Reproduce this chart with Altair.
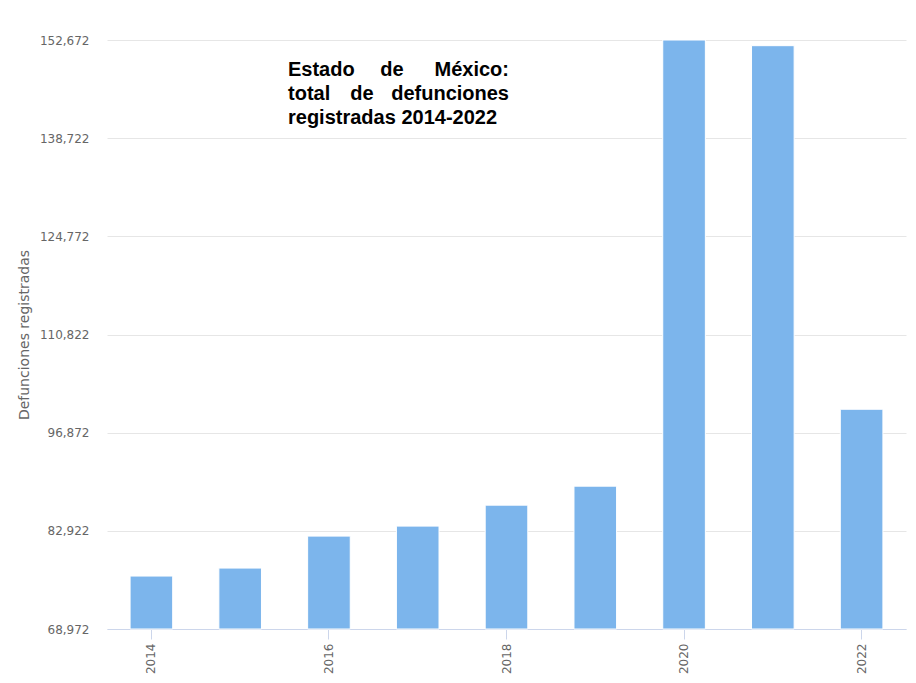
import altair as alt
import pandas as pd

years = [2014, 2015, 2016, 2017, 2018, 2019, 2020, 2021, 2022]
deaths = [76495, 77630, 82172, 83592, 86572, 89269, 152672, 151865, 100199]
y_ticks = [68972, 82922, 96872, 110822, 124772, 138722, 152672]
x_label_years = [2014, 2016, 2018, 2020, 2022]
title_lines = [["Estado", "de", "México:"], ["total", "de", "defunciones"], ["registradas 2014-2022"]]

df = pd.DataFrame({"year": years, "deaths": deaths})

W, H = 799, 589

bars = alt.Chart(df).mark_bar(color="#7cb5ec", stroke="white", strokeWidth=1).encode(
    x=alt.X(
        "year:O",
        scale=alt.Scale(paddingInner=0.52, paddingOuter=0.26),
        axis=alt.Axis(
            values=x_label_years,
            labelAngle=-90,
            labelAlign="right",
            labelBaseline="middle",
            labelFont="DejaVu Sans",
            labelFontSize=12,
            labelColor="#666666",
            labelPadding=4,
            tickSize=10,
            tickColor="#ccd6eb",
            domainColor="#ccd6eb",
            grid=False,
            title=None,
        ),
    ),
    y=alt.Y(
        "deaths:Q",
        scale=alt.Scale(domain=[y_ticks[0], y_ticks[-1]], zero=False, nice=False),
        axis=alt.Axis(
            values=y_ticks,
            format=",d",
            labelFont="DejaVu Sans",
            labelFontSize=12,
            labelColor="#666666",
            labelPadding=18,
            ticks=False,
            tickSize=0,
            domain=False,
            gridColor="#e6e6e6",
            title="Defunciones registradas",
            titleFont="DejaVu Sans",
            titleFontSize=14,
            titleFontWeight="normal",
            titleColor="#666666",
            titlePadding=8,
        ),
    ),
    y2=alt.datum(y_ticks[0]),
)

# justified title block: left edge 181, right edge 402 (plot coords)
LEFT, RIGHT = 181, 402
layers = [bars]
for i, words in enumerate(title_lines):
    yy = 36 + 24 * i
    n = len(words)
    for j, w in enumerate(words):
        if n == 1 or j == 0:
            align, xx = "left", LEFT
        elif j == n - 1:
            align, xx = "right", RIGHT
        else:
            align = "center"
            xx = 285 if i == 0 else 255
        layers.append(
            alt.Chart(pd.DataFrame({"t": [w]})).mark_text(
                align=align,
                baseline="alphabetic",
                font="Liberation Sans",
                fontSize=20,
                fontWeight="bold",
                color="#000000",
            ).encode(
                text="t:N",
                x=alt.value(xx),
                y=alt.value(yy),
            )
        )

chart = alt.layer(*layers).properties(
    width=W,
    height=H,
    background="white",
    autosize=alt.AutoSizeParams(type="none"),
    padding={"left": 99, "top": 32, "right": 2, "bottom": 46},
).configure_view(stroke=None)

chart.save("out.html", embed_options={"renderer": "svg", "actions": False})
